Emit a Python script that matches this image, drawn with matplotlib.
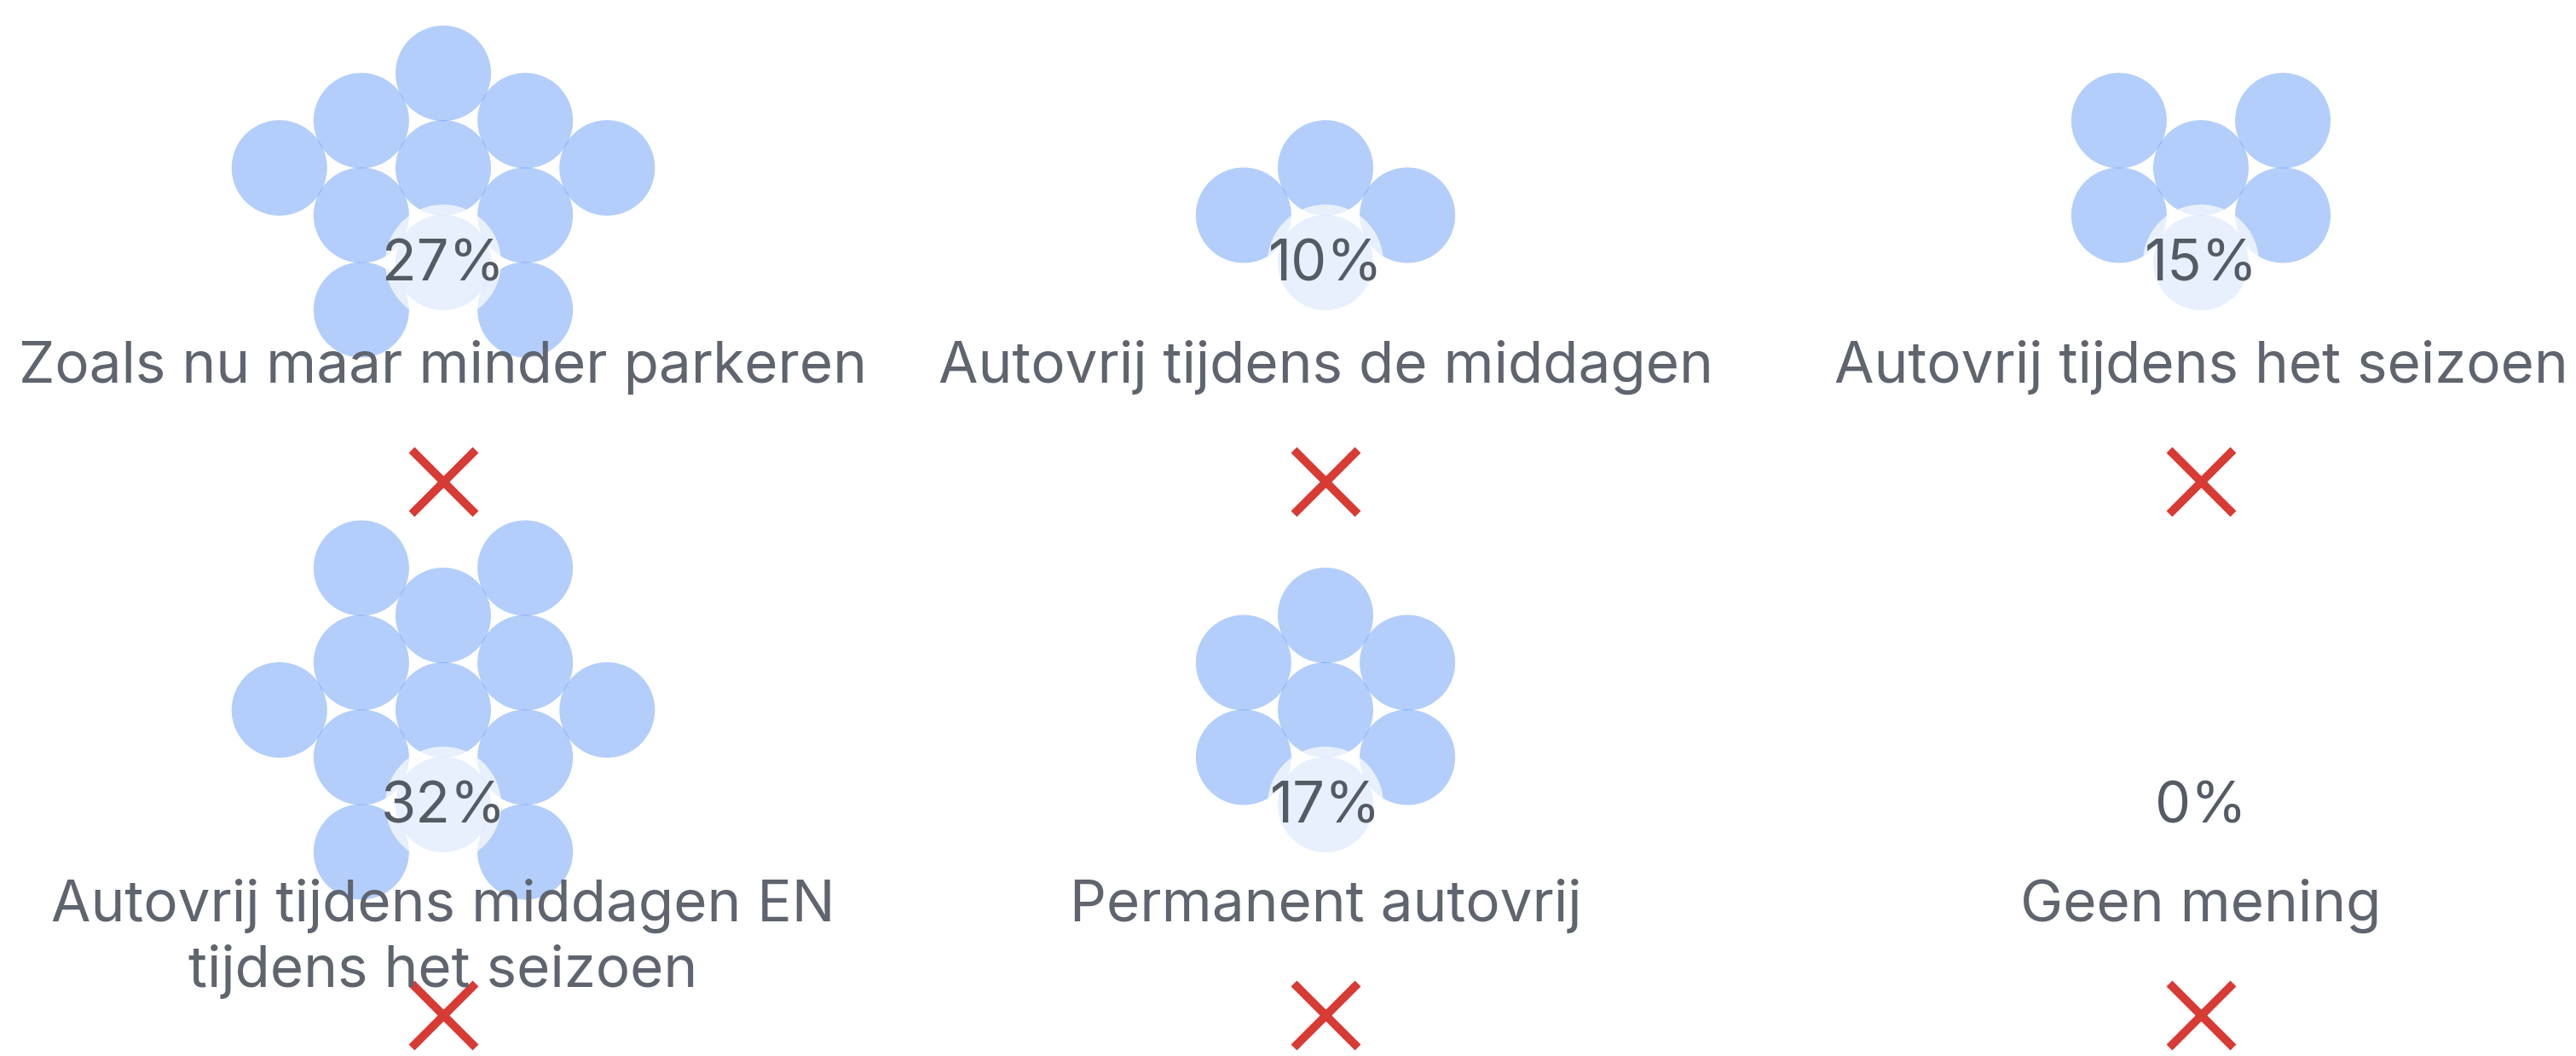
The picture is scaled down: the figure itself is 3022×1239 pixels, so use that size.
import numpy as np
import matplotlib.pyplot as plt
from matplotlib.patches import Circle

plt.rcParams['font.family'] = ['Inter', 'DejaVu Sans']

# data
categories = [
    "Zoals nu maar minder parkeren",
    "Autovrij tijdens de middagen",
    "Autovrij tijdens het seizoen",
    "Autovrij tijdens middagen EN\ntijdens het seizoen",
    "Permanent autovrij",
    "Geen mening",
]
percentages = [27, 10, 15, 32, 17, 0]
pct_per_bubble = 2.5

# layout (pixel coordinates)
W, H = 3022, 1239
col_x = [520, 1555, 2582]
pct_y = [312, 948]
cat_y = [424, 1056]
mark_y = [565, 1191]
line_step = 77
R = 56

bubble_color = '#4285f4'
text_color = '#5f646e'
red = '#d83a34'


def pack_circles(n, r):
    # greedy packing: each new bubble goes to the free tangent spot nearest the target above the anchor
    d = 2 * r - 1
    pts = [np.array([0.0, 0.0])]
    target = np.array([0.0, -0.95 * d])
    for _ in range(1, n):
        cands = []
        for p in pts:
            for a in np.linspace(0, 2 * np.pi, 36, endpoint=False):
                cands.append(p + d * np.array([np.cos(a), np.sin(a)]))
        for i in range(len(pts)):
            for j in range(i + 1, len(pts)):
                v = pts[j] - pts[i]
                L = np.linalg.norm(v)
                if 0 < L < 2 * d:
                    m = (pts[i] + pts[j]) / 2
                    h = np.sqrt(d * d - (L / 2) ** 2)
                    perp = np.array([-v[1], v[0]]) / L
                    cands += [m + h * perp, m - h * perp]
        best = None
        for c in cands:
            if all(np.linalg.norm(c - p) >= d - 1e-6 for p in pts):
                dist = np.linalg.norm(c - target)
                if best is None or dist < best[0] - 1e-9:
                    best = (dist, c)
        pts.append(best[1])
    return np.array(pts)


fig = plt.figure(figsize=(W / 100, H / 100), dpi=100)
ax = fig.add_axes([0, 0, 1, 1])
ax.set_xlim(0, W)
ax.set_ylim(H, 0)
ax.axis('off')

for k, (cat, pct) in enumerate(zip(categories, percentages)):
    cx = col_x[k % 3]
    row = k // 3
    cy = pct_y[row]
    n = int(round(pct / pct_per_bubble))
    if n > 0:
        pts = pack_circles(n, R)
        for px, py in pts:
            ax.add_patch(Circle((cx + px, cy - 4 + py), R, facecolor=bubble_color,
                                alpha=0.4, edgecolor='none'))
        # witte schijf achter het percentage
        ax.add_patch(Circle((cx, cy - 4), R + 12, facecolor='white', alpha=0.7,
                            edgecolor='none'))
    ax.text(cx, cy, f"{pct}%", ha='center', va='center', fontsize=48,
            color='#555b65')
    for li, line in enumerate(cat.split('\n')):
        ax.text(cx, cat_y[row] + li * line_step, line, ha='center',
                va='center_baseline', fontsize=48.5, color=text_color)
    ax.plot([cx], [mark_y[row]], marker='x', ms=54, mew=7, color=red,
            linestyle='none')

fig.savefig('out.png', dpi=100, facecolor='white')
